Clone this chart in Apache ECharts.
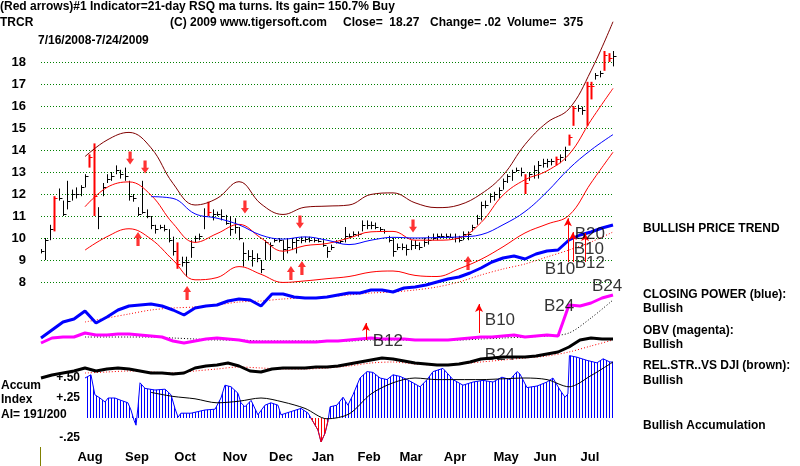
<!DOCTYPE html>
<html>
<head>
<meta charset="utf-8">
<title>TRCR</title>
<script src="https://cdn.jsdelivr.net/npm/echarts@6/dist/echarts.min.js"></script>
<style>
html,body{margin:0;padding:0;background:#fff;}
#chart{width:800px;height:466px;}
</style>
</head>
<body>
<div id="chart"></div>
<script>
// x = trading day index, 0 = 7/16/2008 ... 260 = 7/24/2009
var monthDays = [22.3, 43.6, 65.5, 88.2, 109.1, 128.2, 149.1, 168.2, 188.2, 211.4, 229.1, 249.5];
var monthNames = ['Aug', 'Sep', 'Oct', 'Nov', 'Dec', 'Jan', 'Feb', 'Mar', 'Apr', 'May', 'Jun', 'Jul'];

// price bars, one every 2nd trading day
var barHigh = [9.5,10.0,10.6,11.9,12.25,11.7,12.6,12.2,12.3,12.4,12.9,13.8,14.3,11.4,12.5,12.9,13.0,13.3,13.1,13.2,
  12.6,12.0,11.4,12.6,11.3,11.0,10.6,10.6,10.6,10.4,10.06,9.8,9.15,9.15,9.9,10.1,10.2,11.35,11.65,11.3,
  11.2,11.3,11.05,11.0,10.9,10.5,9.8,9.45,9.45,9.3,9.0,9.9,9.8,10.0,10.0,9.9,10.0,10.0,10.0,10.06,
  10.06,10.06,10.0,10.0,9.9,9.6,9.7,9.9,9.9,10.5,10.2,10.3,10.3,10.8,10.8,10.75,10.7,10.5,10.4,10.1,
  10.0,9.75,9.75,9.7,9.9,9.9,9.8,10.0,10.1,10.2,10.2,10.2,10.2,10.2,10.2,10.1,10.3,10.3,10.6,11.05,
  11.65,11.7,12.03,12.1,12.3,12.7,12.9,13.1,13.2,13.2,12.9,13.0,13.3,13.5,13.6,13.6,13.6,13.7,13.8,14.15,
  14.7,16.0,16.05,15.97,17.1,17.1,17.5,17.6,18.5,18.4,18.5];
var barLow = [9.3,9.0,9.9,10.3,11.7,11.0,11.3,11.7,11.8,11.9,12.3,13.2,11.0,10.4,11.9,12.5,12.6,12.9,12.7,12.6,
  11.7,11.65,11.0,11.1,10.9,10.4,10.2,10.4,10.3,9.8,9.2,8.6,8.7,8.25,9.1,9.8,9.9,10.4,11.0,10.8,
  11.0,10.8,10.6,10.1,10.2,9.9,8.7,9.0,8.7,8.9,8.4,9.0,9.0,9.8,9.8,9.0,9.3,9.45,9.3,9.76,
  9.8,9.8,9.8,9.8,9.6,9.1,9.45,9.75,9.75,9.8,10.0,10.06,10.06,10.3,10.4,10.4,10.4,10.3,10.2,9.8,
  9.15,9.45,9.45,9.2,9.45,9.5,9.45,9.6,9.7,9.9,9.9,10.0,10.0,10.0,9.8,9.8,9.9,9.9,10.3,10.6,
  10.8,11.35,11.6,11.7,11.8,12.2,12.5,12.6,13.0,12.8,12.0,12.6,12.7,12.7,13.2,13.2,13.3,13.3,13.4,13.5,
  14.2,15.1,15.74,15.6,15.1,16.3,17.2,17.3,17.6,18.0,17.8];
var barClose = [9.4,9.9,10.4,11.8,11.8,11.1,11.7,12.0,12.0,12.3,12.8,13.7,11.9,11.0,12.3,12.7,12.8,13.1,12.9,12.8,
  11.9,11.8,11.1,11.2,11.0,10.6,10.4,10.5,10.4,9.9,9.4,8.8,8.9,8.9,9.6,10.0,10.1,11.0,11.2,11.1,
  11.1,11.0,10.7,10.4,10.5,10.0,9.3,9.2,9.1,9.1,8.6,9.8,9.7,9.9,9.9,9.5,9.6,9.8,9.9,9.9,
  9.95,9.9,9.9,9.85,9.7,9.4,9.6,9.8,9.85,10.1,10.1,10.2,10.2,10.6,10.6,10.6,10.5,10.4,10.3,9.9,
  9.4,9.6,9.6,9.5,9.7,9.7,9.6,9.8,9.9,10.0,10.1,10.1,10.1,10.05,10.0,9.9,10.2,10.2,10.5,10.9,
  11.5,11.5,11.9,12.0,12.2,12.6,12.8,13.0,13.1,13.0,12.5,12.9,13.1,13.3,13.4,13.5,13.5,13.6,13.7,14.0,
  14.6,15.9,15.9,15.8,16.9,16.9,17.4,17.5,18.3,18.2,18.27];
var redBars = [3, 11, 12, 31, 38, 110, 117, 120, 121, 124, 125, 128, 129];

// bands, one value every 10 trading days
var bandOuter = [null,null,13.7,14.45,14.8,14.1,12.48,11.5,11.8,12.56,11.55,11.07,11.4,11.45,11.5,11.98,12.05,11.6,11.38,11.5,12.0,12.85,14.25,15.25,15.87,17.6,19.83];
var bandUpper = [null,null,11.42,12.3,12.55,11.95,10.66,9.8,10.2,10.62,10.0,9.4,9.65,9.75,10.0,10.28,10.3,9.9,9.9,10.0,10.7,11.95,12.65,13.05,13.8,15.35,16.8];
var bandMid = [null,null,null,null,null,11.88,11.8,11.1,10.9,10.6,10.13,9.95,10.05,9.9,9.7,9.9,10.03,10.0,10.02,10.05,10.15,10.6,11.2,12.1,13.15,14.0,14.7];
var bandLower = [null,null,9.45,10.06,10.42,9.95,9.0,8.1,8.2,8.7,8.35,7.98,8.05,8.15,8.25,8.45,8.5,8.3,8.25,8.6,9.03,9.6,10.23,10.63,11.03,12.5,13.9];

// red signal arrows [day, price]
var sellArrows = [[40.5, 13.64], [47.3, 13.23], [92.7, 11.41], [117.7, 10.73], [169.1, 10.55]];
var buyArrows = [[44.1, 9.95], [66.4, 7.5], [113.6, 8.41], [118.6, 8.64], [194.1, 8.86]];

// indicators, one value every 5 trading days
var closingPower = [7,15,23,26,34,22,28,35,39,40,41,39,35,30,37,39,40,44,46,45,39,51,51,48,47,47,48,50,52,52,55,55,53,57,58,60,63,66,68,72,77,83,87,89,86,91,94,95,105,110,113,117,120];
var obv = [17,22,23,23,27,25,25,26,26,25,24,23,19,17,19,21,22,21,20,18,18,18,18,18,18,18,19,19,20,21,22,21,21,21,20,20,20,20,21,22,23,23,24,25,23,24,25,24,55,54,57,62,65];
var relStrength = [12,15,17,19,22,19,21,22,21,19,17,17,16,17,22,24,25,27,24,19,18,21,22,22,22,23,23,24,26,28,30,32,31,29,27,26,25,25,26,28,31,32,33,33,33,34,36,38,43,50,52,51,51];
// their moving averages, every 10 trading days
var closingPowerMa = [null,null,23,27,31,35,37,38,40,43,44,46,47,48,50,52,53,55,58,63,70,76,81,88,95,103,113];
var obvMa = [null,null,23,23,23,23,22,21,20,20,19,19,19,19,19,20,20,20,20,20,21,22,23,24,27,42,60];
var relStrengthMa = [null,null,17,18,19,18,17,19,21,23,22,21,21,22,24,27,28,26,25,26,28,30,32,34,38,44,50];

// accumulation index
var accumDays = [20.0,22.7,24.5,26.8,29.1,30.5,33.6,36.4,39.5,40.9,42.3,43.2,44.1,45.0,47.3,51.8,56.4,59.1,60.9,62.3,
  63.6,68.2,74.5,79.1,81.8,83.6,86.4,89.5,90.9,92.7,95.5,98.6,101.8,104.5,107.7,109.1,113.6,118.2,121.4,122.7,
  125.9,127.3,129.1,130.5,131.4,134.5,137.3,139.5,141.8,145.0,148.2,150.9,154.1,157.3,160.0,163.2,166.4,169.1,172.3,175.5,
  178.2,182.7,187.3,191.8,196.4,200.9,205.5,209.5,213.2,216.4,217.7,220.9,225.5,230.0,232.7,235.9,238.2,239.5,240.2,243.6,
  248.2,252.7,255.5,258.6,260.0];
var accumValues = [0.50,0.54,0.29,0.25,0.20,0.25,0.25,0.22,0.19,0.10,-0.03,-0.09,0.14,0.44,0.37,0.35,0.36,0.29,0.12,0.01,
  0.06,0.06,0.10,0.11,0.25,0.41,0.39,0.31,0.19,0.14,0.22,0.04,0.16,0.19,0.16,0.04,0.08,0.12,0.06,0.00,
  -0.15,-0.30,-0.19,-0.03,0.14,0.16,0.26,0.16,0.29,0.50,0.58,0.57,0.50,0.48,0.54,0.52,0.48,0.44,0.39,0.48,
  0.58,0.62,0.48,0.41,0.45,0.47,0.45,0.51,0.48,0.58,0.55,0.38,0.40,0.45,0.50,0.35,0.26,0.30,0.78,0.76,
  0.72,0.69,0.74,0.70,0.70];
var accumRedSpan = [122, 131];
var accumMa = [null,null,null,null,null,0.32,0.27,0.24,0.19,0.21,0.25,0.20,0.12,-0.01,0.05,0.30,0.44,0.50,0.48,0.48,0.48,0.49,0.50,0.48,0.39,0.53,0.70];
var accumTicks = [0.5, 0.25, -0.25];
var accumTickNames = ['+.50', '+.25', '-.25'];

// B-signal labels and thin arrows
var priceSignals = [[249.5, 10.18, 'B20'], [249, 9.5, 'B10'], [249.5, 8.86, 'B12'], [235.9, 8.59, 'B10'], [257.3, 7.82, 'B24']];
var priceSignalArrows = [[225.9, 7.95, 9.23], [239.5, 8.91, 10.9], [241.8, 8.91, 10.27], [247.3, 8.91, 10.23]];
var obvSignals = [[157.7, 19, 'B12'], [208.6, 40, 'B10'], [235.5, 54, 'B24']];
var obvSignalArrows = [[147.7, 20, 37], [199.1, 27, 56]];
var rsSignals = [[208.6, 35, 'B24']];

function every(arr, step) {
  var out = [];
  arr.forEach(function (v, i) { if (v != null) out.push([i * step, v]); });
  return out;
}

var bars = barHigh.map(function (h, i) {
  return [i * 2, barLow[i], h, barClose[i], redBars.indexOf(i) >= 0 ? 1 : 0];
});
var accum = accumDays.map(function (d, i) { return [d, accumValues[i]]; });
var accumRed = accum.filter(function (p) { return p[0] >= accumRedSpan[0] && p[0] <= accumRedSpan[1]; });

function stripes(color) {
  var c = document.createElement('canvas');
  c.width = 3; c.height = 4;
  var ctx = c.getContext('2d');
  ctx.fillStyle = color;
  ctx.fillRect(0, 0, 1, 4);
  return { image: c, repeat: 'repeat' };
}

function renderBar(params, api) {
  var t = api.value(0);
  var lo = api.coord([t, api.value(1)]);
  var hi = api.coord([t, api.value(2)]);
  var cl = api.coord([t, api.value(3)]);
  var red = api.value(4) === 1;
  var col = red ? '#ff0000' : '#000000';
  var x = Math.round(lo[0]) + 0.5;
  return {
    type: 'group',
    children: [
      { type: 'line', shape: { x1: x, y1: lo[1], x2: x, y2: hi[1] }, style: { stroke: col, lineWidth: red ? 2 : 1 } },
      { type: 'line', shape: { x1: x, y1: Math.round(cl[1]) + 0.5, x2: x + 3, y2: Math.round(cl[1]) + 0.5 }, style: { stroke: col, lineWidth: 1 } }
    ]
  };
}

var arrowPath = 'path://M5,0 L10,6 L7,6 L7,14 L3,14 L3,6 L0,6 Z';
var boldFont = 'bold 12px "Liberation Sans"';
var sigLabel = { show: true, position: 'inside', formatter: function (p) { return p.value[2]; },
  color: '#000', fontFamily: 'Liberation Sans', fontSize: 17, textBorderWidth: 0 };
function arrowLines(list) {
  return {
    silent: true, symbol: ['none', 'arrow'], symbolSize: [6, 8], label: { show: false },
    lineStyle: { color: '#ff0000', width: 1, type: 'solid' },
    data: list.map(function (a) { return [{ coord: [a[0], a[1]] }, { coord: [a[0], a[2]] }]; })
  };
}

var grids = [
  { left: 41, width: 572, top: 62, height: 220 },
  { left: 41, width: 572, top: 220, height: 125 },
  { left: 41, width: 572, top: 280, height: 80 },
  { left: 41, width: 572, top: 310, height: 80 },
  { left: 41, width: 572, top: 354, height: 92 }
];
var xAxes = grids.map(function (g, i) {
  return { type: 'value', gridIndex: i, min: 0, max: 260, show: false };
});
xAxes[4] = {
  type: 'value', gridIndex: 4, min: 0, max: 260,
  axisLine: { show: false }, axisTick: { show: false }, splitLine: { show: false },
  axisLabel: {
    customValues: monthDays, margin: 5, color: '#000', fontWeight: 'bold', fontSize: 13, fontFamily: 'Liberation Sans',
    formatter: function (v) { return monthNames[monthDays.indexOf(v)] || ''; }
  }
};

var option = {
  animation: false,
  backgroundColor: '#fff',
  grid: grids,
  xAxis: xAxes,
  yAxis: [
    { type: 'value', gridIndex: 0, min: 8, max: 18, interval: 1,
      axisLine: { show: false }, axisTick: { show: false },
      axisLabel: { margin: 15, color: '#000', fontWeight: 'bold', fontSize: 13, fontFamily: 'Liberation Sans' },
      splitLine: { lineStyle: { color: '#008000', type: [1, 2], width: 1 } } },
    { type: 'value', gridIndex: 1, min: 0, max: 125, show: false },
    { type: 'value', gridIndex: 2, min: 0, max: 80, show: false },
    { type: 'value', gridIndex: 3, min: 0, max: 80, show: false },
    { type: 'value', gridIndex: 4, min: -0.35, max: 0.8, offset: -42,
      axisLine: { show: false }, axisTick: { show: false }, splitLine: { show: false },
      axisLabel: { customValues: accumTicks, margin: 3, color: '#000', fontWeight: 'bold', fontSize: 12, fontFamily: 'Liberation Sans',
        formatter: function (v) { return accumTickNames[accumTicks.indexOf(v)] || ''; } } }
  ],
  series: [
    { type: 'line', xAxisIndex: 0, yAxisIndex: 0, data: every(bandOuter, 10), smooth: 0.4, symbol: 'none', clip: false,
      lineStyle: { color: '#800000', width: 1 } },
    { type: 'line', xAxisIndex: 0, yAxisIndex: 0, data: every(bandUpper, 10), smooth: 0.4, symbol: 'none', clip: false,
      lineStyle: { color: '#ff0000', width: 1 } },
    { type: 'line', xAxisIndex: 0, yAxisIndex: 0, data: every(bandLower, 10), smooth: 0.4, symbol: 'none', clip: false,
      lineStyle: { color: '#ff0000', width: 1 } },
    { type: 'line', xAxisIndex: 0, yAxisIndex: 0, data: every(bandMid, 10), smooth: 0.4, symbol: 'none', clip: false,
      lineStyle: { color: '#0000ff', width: 1 } },
    { type: 'custom', xAxisIndex: 0, yAxisIndex: 0, data: bars, renderItem: renderBar, clip: false,
      encode: { x: 0, y: [1, 2] } },
    { type: 'scatter', xAxisIndex: 0, yAxisIndex: 0, data: sellArrows, symbol: arrowPath, symbolSize: [8, 13],
      symbolRotate: 180, itemStyle: { color: '#ff0000' }, clip: false },
    { type: 'scatter', xAxisIndex: 0, yAxisIndex: 0, data: buyArrows, symbol: arrowPath, symbolSize: [8, 14],
      itemStyle: { color: '#ff0000' }, clip: false },

    { type: 'line', xAxisIndex: 1, yAxisIndex: 1, data: every(closingPowerMa, 10), smooth: 0.3, symbol: 'none',
      lineStyle: { color: '#ff0000', width: 1, type: [1, 2] } },
    { type: 'line', xAxisIndex: 1, yAxisIndex: 1, data: every(closingPower, 5), symbol: 'none',
      lineStyle: { color: '#0000ff', width: 3 } },

    { type: 'line', xAxisIndex: 2, yAxisIndex: 2, data: every(obvMa, 10), smooth: 0.3, symbol: 'none',
      lineStyle: { color: '#000', width: 1, type: [1, 2] } },
    { type: 'line', xAxisIndex: 2, yAxisIndex: 2, data: every(obv, 5), symbol: 'none',
      lineStyle: { color: '#ff00ff', width: 3 } },

    { type: 'line', xAxisIndex: 3, yAxisIndex: 3, data: every(relStrengthMa, 10), smooth: 0.3, symbol: 'none',
      lineStyle: { color: '#ff0000', width: 1, type: [1, 2] } },
    { type: 'line', xAxisIndex: 3, yAxisIndex: 3, data: every(relStrength, 5), symbol: 'none',
      lineStyle: { color: '#000', width: 3 } },

    { type: 'line', xAxisIndex: 4, yAxisIndex: 4, data: accum, symbol: 'none',
      lineStyle: { color: '#0000ff', width: 1 }, areaStyle: { color: stripes('#0000ff'), opacity: 1 },
      markLine: { silent: true, symbol: 'none', label: { show: false },
        lineStyle: { color: '#a070a0', width: 1, type: [1, 3] },
        data: [[{ coord: [18, 0.5] }, { coord: [262, 0.5] }], [{ coord: [18, -0.25] }, { coord: [262, -0.25] }]] } },
    { type: 'line', xAxisIndex: 4, yAxisIndex: 4, data: accumRed, symbol: 'none',
      lineStyle: { color: '#ff0000', width: 1 }, areaStyle: { color: stripes('#ff0000'), opacity: 1 } },
    { type: 'line', xAxisIndex: 4, yAxisIndex: 4, data: every(accumMa, 10), smooth: 0.3, symbol: 'none',
      lineStyle: { color: '#000', width: 1 } },

    { type: 'scatter', xAxisIndex: 0, yAxisIndex: 0, data: priceSignals, symbolSize: 1, clip: false, zlevel: 1,
      itemStyle: { color: 'rgba(0,0,0,0)' }, label: sigLabel, markLine: arrowLines(priceSignalArrows) },
    { type: 'scatter', xAxisIndex: 2, yAxisIndex: 2, data: obvSignals, symbolSize: 1, clip: false, zlevel: 1,
      itemStyle: { color: 'rgba(0,0,0,0)' }, label: sigLabel, markLine: arrowLines(obvSignalArrows) },
    { type: 'scatter', xAxisIndex: 3, yAxisIndex: 3, data: rsSignals, symbolSize: 1, clip: false, zlevel: 1,
      itemStyle: { color: 'rgba(0,0,0,0)' }, label: sigLabel }
  ],
  graphic: [
    { type: 'text', left: 0, top: 1, style: { text: '(Red arrows)#1 Indicator=21-day RSQ ma turns. Its gain= 150.7% Buy', font: boldFont, fill: '#000' } },
    { type: 'text', left: 0, top: 17, style: { text: 'TRCR', font: boldFont, fill: '#000' } },
    { type: 'text', left: 170, top: 17, style: { text: '(C) 2009 www.tigersoft.com', font: boldFont, fill: '#000' } },
    { type: 'text', left: 343, top: 17, style: { text: 'Close=  18.27', font: boldFont, fill: '#000' } },
    { type: 'text', left: 430, top: 17, style: { text: 'Change= .02', font: boldFont, fill: '#000' } },
    { type: 'text', left: 507, top: 17, style: { text: 'Volume=  375', font: boldFont, fill: '#000' } },
    { type: 'text', left: 38, top: 35, style: { text: '7/16/2008-7/24/2009', font: boldFont, fill: '#000' } },
    { type: 'text', left: 643, top: 223, style: { text: 'BULLISH PRICE TREND', font: boldFont, fill: '#000' } },
    { type: 'text', left: 643, top: 289, style: { text: 'CLOSING POWER (blue):', font: boldFont, fill: '#000' } },
    { type: 'text', left: 643, top: 303, style: { text: 'Bullish', font: boldFont, fill: '#000' } },
    { type: 'text', left: 643, top: 325, style: { text: 'OBV (magenta):', font: boldFont, fill: '#000' } },
    { type: 'text', left: 643, top: 339, style: { text: 'Bullish', font: boldFont, fill: '#000' } },
    { type: 'text', left: 643, top: 360, style: { text: 'REL.STR..VS DJI (brown):', font: boldFont, fill: '#000' } },
    { type: 'text', left: 643, top: 375, style: { text: 'Bullish', font: boldFont, fill: '#000' } },
    { type: 'text', left: 643, top: 420, style: { text: 'Bullish Accumulation', font: boldFont, fill: '#000' } },
    { type: 'text', left: 1, top: 380, style: { text: 'Accum', font: boldFont, fill: '#000' } },
    { type: 'text', left: 1, top: 394, style: { text: 'Index', font: boldFont, fill: '#000' } },
    { type: 'text', left: 1, top: 409, style: { text: 'AI= 191/200', font: boldFont, fill: '#000' } },
    { type: 'line', shape: { x1: 40.5, y1: 447, x2: 40.5, y2: 466 }, style: { stroke: '#808000', lineWidth: 1 } }
  ]
};

var myChart = echarts.init(document.getElementById('chart'));
myChart.setOption(option);
</script>
</body>
</html>
